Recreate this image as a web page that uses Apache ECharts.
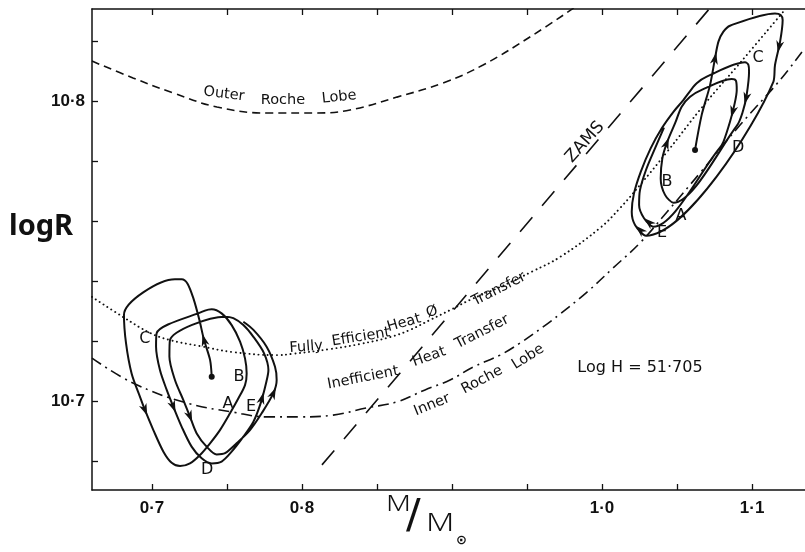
<!DOCTYPE html>
<html><head><meta charset="utf-8">
<script src="https://cdn.jsdelivr.net/npm/echarts@6/dist/echarts.min.js"></script>
<style>html,body{margin:0;padding:0;background:#fff}#c{width:805px;height:552px}</style>
</head><body><div id="c"></div>
<script>
// ---- axis ticks / labels ----
const xTicks = [0.7, 0.75, 0.8, 0.85, 0.9, 0.95, 1.0, 1.05, 1.1];
const xLabels = [0.7, 0.8, 1.0, 1.1];
const yTicks = [10.68, 10.70, 10.72, 10.74, 10.76, 10.78, 10.80, 10.82];
const yLabels = [10.7, 10.8];

// ---- reference curves [M/Mo, logR] ----
const outerRocheLobe = [
  [0.660,10.8133],[0.6873,10.8077],[0.714,10.8027],[0.7433,10.7980],[0.7767,10.7960],
  [0.810,10.7960],[0.832,10.7970],[0.8633,10.8013],[0.894,10.8060],[0.9207,10.8120],
  [0.954,10.8220],[0.982,10.8313]
];
const innerRocheLobe = [
  [0.660,10.7143],[0.6873,10.7060],[0.7233,10.6993],[0.754,10.6963],[0.7767,10.6947],
  [0.7987,10.6947],[0.8207,10.6953],[0.8433,10.6977],[0.8633,10.6997],[0.882,10.7037],
  [0.8987,10.7070],[0.914,10.7113],[0.932,10.7153],[0.9453,10.7193],[0.9607,10.7247],
  [0.972,10.7290],[0.990,10.7363],[1.0073,10.7443],[1.0253,10.7527],[1.0433,10.7630],
  [1.0653,10.7760],[1.092,10.7920],[1.1187,10.8070],[1.1353,10.8177]
];
const fullyEfficient = [
  [0.660,10.7347],[0.6807,10.7280],[0.6987,10.7227],[0.712,10.7203],[0.732,10.7183],
  [0.754,10.7163],[0.7833,10.7153],[0.7933,10.7157],[0.8187,10.7173],[0.8387,10.7190],
  [0.8587,10.7213],[0.872,10.7237],[0.8853,10.7270],[0.8987,10.7303],[0.912,10.7337],
  [0.932,10.7380],[0.954,10.7433],[0.972,10.7480],[0.9987,10.7577],[1.012,10.7643],
  [1.0253,10.7720],[1.0433,10.7830],[1.0673,10.7983],[1.092,10.8127],[1.1207,10.8297]
];
const zams = [[0.8133,10.6787],[1.072,10.8310]];

// ---- evolutionary tracks ----
const leftTrack = [
  [0.7398,10.7081],[0.7387,10.7137],[0.7347,10.7203],[0.7316,10.7270],[0.7276,10.7342],
  [0.7236,10.7392],[0.7198,10.7406],[0.7153,10.7406],[0.6813,10.7287],[0.6827,10.7192],
  [0.6864,10.7092],[0.6920,10.7014],[0.6953,10.6970],[0.7009,10.6903],[0.7076,10.6831],
  [0.7131,10.6794],[0.7187,10.6783],[0.7253,10.6792],[0.7320,10.6820],[0.7387,10.6859],
  [0.7453,10.6903],[0.7520,10.6959],[0.7576,10.7009],[0.7620,10.7053],[0.7631,10.7092],
  [0.7620,10.7142],[0.7587,10.7198],[0.7531,10.7253],[0.7464,10.7292],[0.7398,10.7306],
  [0.7353,10.7301],[0.7031,10.7226],[0.7027,10.7181],[0.7053,10.7103],[0.7098,10.7037],
  [0.7142,10.6981],[0.7198,10.6914],[0.7264,10.6848],[0.7331,10.6809],[0.7398,10.6792],
  [0.7464,10.6798],[0.7531,10.6831],[0.7609,10.6881],[0.7676,10.6931],[0.7724,10.6992],
  [0.7760,10.7059],[0.7776,10.7103],[0.7747,10.7159],[0.7676,10.7214],[0.7609,10.7253],
  [0.7542,10.7276],[0.7487,10.7281],[0.7120,10.7203],[0.7116,10.7148],[0.7153,10.7070],
  [0.7209,10.7003],[0.7253,10.6948],[0.7298,10.6892],[0.7364,10.6848],[0.7431,10.6822],
  [0.7487,10.6826],[0.7564,10.6859],[0.7653,10.6903],[0.7731,10.6959],[0.7809,10.7026],
  [0.7831,10.7070],[0.7820,10.7114],[0.7764,10.7181],[0.7676,10.7237],[0.7609,10.7264]
];
const rightTrack = [
  [1.0620,10.7837],[1.0664,10.7953],[1.0720,10.8053],[1.0753,10.8142],[1.0776,10.8198],
  [1.0809,10.8231],[1.0853,10.8251],[1.1153,10.8292],[1.1191,10.8287],[1.1204,10.8270],
  [1.1187,10.8198],[1.1153,10.8120],[1.1142,10.8064],[1.0293,10.7551],[1.0220,10.7587],
  [1.0198,10.7631],[1.0213,10.7692],[1.0258,10.7764],[1.0324,10.7842],[1.0398,10.7909],
  [1.0476,10.7964],[1.0542,10.8003],[1.0587,10.8033],[1.0631,10.8059],[1.0698,10.8081],
  [1.0953,10.8129],[1.0976,10.8120],[1.0980,10.8098],[1.0964,10.8020],[1.0938,10.7964],
  [1.0898,10.7917],[1.0476,10.7661],[1.0420,10.7687],[1.0391,10.7742],[1.0402,10.7809],
  [1.0431,10.7859],[1.0487,10.7926],[1.0531,10.7981],[1.0587,10.8014],[1.0664,10.8037],
  [1.0864,10.8073],[1.0893,10.8067],[1.0898,10.8037],[1.0882,10.7987],[1.0853,10.7931],
  [1.0809,10.7864],[1.0782,10.7842],[1.0342,10.7581],[1.0280,10.7609],[1.0247,10.7653],
  [1.0253,10.7703],[1.0293,10.7770],[1.0353,10.7842],[1.0413,10.7911]
];
const startPoints = [[0.7398,10.7081],[1.0620,10.7837]];
// arrows: [M, logR, direction in degrees (0 = up, counter-clockwise)]
const arrows = [
  [0.7347,10.7203,15],[0.6953,10.6970,-158],[0.7142,10.6981,-158],[0.7253,10.6948,-158],
  [0.7733,10.7009,-15],[0.7809,10.7026,-24],
  [1.0753,10.8142,-11],[1.1180,10.8181,168],[1.0960,10.8009,166],[1.0871,10.7964,165],
  [1.0431,10.7859,-20],[1.0253,10.7570,46],[1.0311,10.7596,48]
];
// phase letters
const phaseLetters = [
  [0.6953,10.7207,'C'],[0.7580,10.7080,'B'],[0.7507,10.6990,'A'],[0.7660,10.6980,'E'],[0.7367,10.6770,'D'],
  [1.1040,10.8143,'C'],[1.0907,10.7843,'D'],[1.0433,10.7730,'B'],[1.0527,10.7617,'A'],[1.0400,10.7560,'E']
];
// curve captions: [M, logR, text, angle]
const curveCaptions = [
  [0.7480,10.8023,'Outer',-7],[0.7873,10.8003,'Roche',0],[0.8247,10.8013,'Lobe',6],
  [0.8027,10.7180,'Fully',4],[0.8393,10.7213,'Efficient',9],[0.8680,10.7260,'Heat',16],
  [0.8867,10.7297,'Ø',20],[0.9313,10.7373,'Transfer',27],
  [0.8407,10.7077,'Inefficient',11],[0.8847,10.7147,'Heat',20],[0.9200,10.7230,'Transfer',27],
  [0.8867,10.6987,'Inner',22],[0.9200,10.7070,'Roche',28],[0.9507,10.7147,'Lobe',32]
];
const zamsCaption = [[0.9887,10.7863,'ZAMS',48]];
const logHNote = [[1.0253,10.7110,'Log H = 51·705']];

const INK = '#111';
const fmt = v => v.toFixed(1).replace('.', '·');
const textFont = 'DejaVu Sans';

const chart = echarts.init(document.getElementById('c'), null, {renderer: 'canvas'});
const xCommon = {
  type: 'value', min: 0.66, max: 1.1353,
  axisLine: {show: true, lineStyle: {color: INK, width: 1.5}},
  splitLine: {show: false}
};
const textSeries = (rows, size, withRotate) => ({
  type: 'scatter', z: 5, symbolSize: 0, silent: true,
  itemStyle: {opacity: 1},
  data: rows.map(p => ({value: [p[0], p[1]], name: p[2],
    label: withRotate ? {rotate: p[3]} : {}})),
  label: {show: true, position: 'inside', formatter: '{b}', color: INK,
    fontFamily: textFont, fontSize: size}
});
chart.setOption({
  animation: false,
  backgroundColor: '#fff',
  grid: {left: 92, top: 9, right: 0, bottom: 62},
  xAxis: [
    Object.assign({}, xCommon, {
      position: 'bottom',
      axisTick: {show: true, inside: true, length: 6, lineStyle: {color: INK, width: 1.3}, customValues: xTicks},
      axisLabel: {show: true, customValues: xLabels, formatter: fmt, margin: 10,
        fontFamily: 'Liberation Sans', fontWeight: 'bold', fontSize: 17, color: INK}
    }),
    Object.assign({}, xCommon, {
      position: 'top',
      axisTick: {show: true, inside: true, length: 6, lineStyle: {color: INK, width: 1.3}, customValues: xTicks},
      axisLabel: {show: false}
    })
  ],
  yAxis: {
    type: 'value', min: 10.67033, max: 10.83067,
    axisLine: {show: true, lineStyle: {color: INK, width: 1.5}},
    axisTick: {show: true, inside: true, length: 6, lineStyle: {color: INK, width: 1.3}, customValues: yTicks},
    axisLabel: {show: true, customValues: yLabels, formatter: fmt, margin: 7,
      fontFamily: 'Liberation Sans', fontWeight: 'bold', fontSize: 17, color: INK},
    splitLine: {show: false}
  },
  graphic: [
    {type: 'text', left: 9, top: 212, style: {text: 'logR', font: 'bold 29px "Noto Sans"', fill: INK}},
    {type: 'text', x: 386, y: 494, scaleX: 1.3, style: {text: 'M', font: '300 22px "Noto Sans"', fill: INK}},
    {type: 'text', x: 406, y: 497, scaleX: 1.5, scaleY: 1.4, style: {text: '/', font: '29px "DejaVu Sans"', fill: INK}},
    {type: 'text', x: 426, y: 511, scaleX: 1.3, style: {text: 'M', font: '300 25px "Noto Sans"', fill: INK}},
    {type: 'text', x: 456, y: 534, style: {text: '⊙', font: 'bold 13px "DejaVu Sans"', fill: INK}}
  ],
  series: [
    {type: 'line', data: outerRocheLobe, smooth: 0.4, symbol: 'none', z: 2,
     lineStyle: {color: INK, width: 1.6, type: [8, 5]}},
    {type: 'line', data: innerRocheLobe, smooth: 0.4, symbol: 'none', z: 2,
     lineStyle: {color: INK, width: 1.6, type: [11, 5, 2, 5]}},
    {type: 'line', data: fullyEfficient, smooth: 0.4, symbol: 'none', z: 2,
     lineStyle: {color: INK, width: 1.9, type: [0.1, 4.5], cap: 'round'}},
    {type: 'line', data: zams, symbol: 'none', z: 2,
     lineStyle: {color: INK, width: 1.6, type: [19, 15]}},
    {type: 'line', data: leftTrack, smooth: 0.3, symbol: 'none', z: 3,
     lineStyle: {color: INK, width: 2}},
    {type: 'line', data: rightTrack, smooth: 0.3, symbol: 'none', z: 3,
     lineStyle: {color: INK, width: 2}},
    {type: 'scatter', data: startPoints, symbol: 'circle', symbolSize: 6, z: 4,
     itemStyle: {color: INK, opacity: 1}},
    {type: 'scatter', z: 4,
     data: arrows.map(a => ({value: [a[0], a[1]], symbolRotate: a[2]})),
     symbol: 'path://M5,0L10,14L5,10L0,14Z', symbolSize: [8, 12],
     itemStyle: {color: INK, opacity: 1}},
    textSeries(phaseLetters, 16, false),
    textSeries(curveCaptions, 14.5, true),
    textSeries(zamsCaption, 17, true),
    textSeries(logHNote, 16, false)
  ]
});
</script></body></html>
